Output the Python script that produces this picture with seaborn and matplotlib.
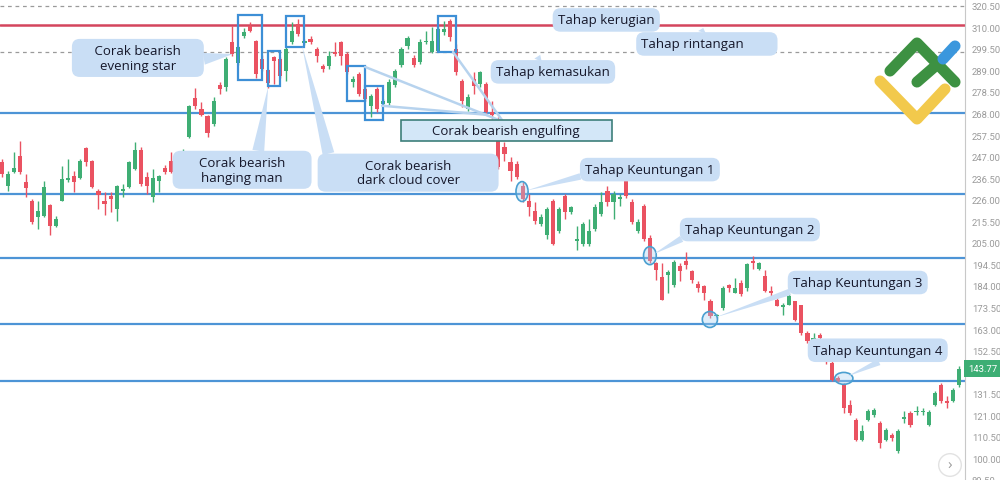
import numpy as np
import pandas as pd
import matplotlib
matplotlib.use("Agg")
import matplotlib.pyplot as plt
import matplotlib.transforms as mtransforms
from matplotlib.patches import Rectangle, Ellipse
from matplotlib.lines import Line2D
import seaborn as sns

sns.set_theme(style="white")
plt.rcParams['font.family'] = ['Open Sans', 'DejaVu Sans']

# ---- data (harga) ----
opens = [244.6, 232.9, 239.7, 247.5, 234.8, 225.6, 217.8, 218.3, 223.6, 213.4,
         225.6, 235.8, 237.7, 236.8, 251.4, 245.0, 230.5, 225.6, 228.0, 221.7,
         230.5, 232.4, 241.1, 250.4, 237.3, 227.5, 235.3, 241.6, 245.0, 238.7,
         241.1, 256.7, 275.7, 270.3, 266.9, 263.0, 282.0, 281.0, 302.9, 292.7,
         305.8, 310.7, 303.4, 294.6, 289.3, 295.6, 294.6, 288.8, 302.9, 311.6,
         302.4, 304.4, 299.5, 291.2, 291.2, 298.0, 302.9, 297.1, 283.4, 287.3,
         280.0, 271.8, 280.0, 272.8, 273.2, 282.0, 291.7, 301.0, 295.1, 293.2,
         302.9, 298.0, 298.5, 307.8, 313.1, 299.5, 283.9, 270.3, 284.9, 282.5,
         282.5, 268.9, 265.5, 251.8, 244.6, 243.6, 232.9, 225.6, 220.7, 214.4,
         208.6, 225.6, 211.0, 228.0, 220.2, 206.1, 204.7, 204.7, 212.0, 219.3,
         230.5, 225.1, 226.6, 235.3, 225.1, 211.0, 223.2, 207.6, 195.0, 188.6,
         189.6, 184.3, 193.5, 196.4, 191.1, 184.8, 183.8, 176.5, 169.2, 173.1,
         184.3, 180.4, 185.7, 182.8, 196.4, 192.5, 189.1, 181.8, 177.0, 173.6,
         174.6, 176.5, 174.6, 161.0, 157.5, 160.0, 156.6, 146.3, 139.0, 135.6,
         125.9, 118.6, 108.9, 118.6, 121.1, 117.2, 108.9, 111.3, 103.6, 119.1,
         122.0, 122.5, 122.5, 116.2, 125.9, 135.6, 127.9, 127.9, 135.6]
highs = [246.0, 240.2, 249.4, 254.8, 238.7, 226.6, 225.6, 235.3, 224.1, 218.3,
         242.6, 246.0, 240.2, 246.0, 251.8, 245.5, 231.4, 230.0, 230.0, 233.4,
         233.9, 245.0, 254.3, 251.8, 239.7, 241.1, 238.2, 243.1, 249.4, 245.0,
         250.9, 272.3, 280.5, 273.7, 267.4, 276.2, 283.4, 295.6, 310.7, 301.0,
         309.7, 312.6, 303.6, 296.6, 289.8, 296.1, 295.6, 300.5, 312.6, 314.1,
         304.4, 305.8, 300.5, 292.2, 298.5, 302.9, 303.4, 298.0, 286.4, 288.3,
         281.0, 277.6, 281.0, 275.2, 284.9, 289.8, 300.5, 305.8, 296.6, 304.4,
         308.2, 310.2, 310.2, 313.1, 314.1, 301.9, 284.9, 277.6, 288.3, 288.8,
         283.4, 274.2, 266.4, 254.3, 247.0, 245.0, 234.8, 229.0, 225.1, 219.3,
         222.7, 226.6, 222.7, 229.0, 223.2, 213.4, 215.4, 216.8, 224.1, 230.0,
         232.9, 230.5, 229.0, 236.3, 226.6, 216.4, 224.1, 208.6, 195.9, 195.0,
         191.6, 196.9, 195.0, 200.8, 192.0, 186.2, 184.7, 177.5, 170.6, 183.8,
         185.2, 187.7, 186.7, 195.4, 198.4, 195.9, 191.6, 183.8, 179.4, 175.5,
         180.4, 176.5, 174.6, 161.9, 161.0, 161.0, 157.5, 147.3, 140.0, 136.6,
         128.3, 119.6, 116.2, 124.0, 124.5, 118.1, 114.7, 112.3, 114.3, 123.0,
         123.0, 125.4, 124.5, 123.5, 132.7, 136.6, 130.3, 134.2, 144.9]
lows = [237.3, 230.5, 239.2, 238.7, 227.5, 214.4, 212.0, 217.8, 208.6, 212.9,
        225.4, 234.8, 230.0, 236.3, 242.6, 231.9, 221.7, 218.8, 220.2, 215.9,
        227.5, 231.9, 240.6, 232.9, 229.0, 225.1, 230.0, 238.7, 239.2, 237.3,
        240.2, 256.2, 270.3, 266.9, 256.7, 262.1, 277.6, 279.1, 296.1, 291.7,
        304.8, 307.8, 285.4, 288.8, 280.5, 282.5, 285.4, 283.9, 301.9, 305.8,
        301.4, 301.9, 293.2, 288.3, 289.8, 296.1, 291.7, 287.3, 281.0, 276.6,
        274.2, 266.4, 268.9, 271.8, 272.3, 281.0, 290.7, 299.5, 290.7, 292.2,
        301.9, 297.5, 298.0, 306.3, 303.4, 286.8, 271.3, 269.4, 277.6, 281.0,
        267.4, 265.5, 241.1, 245.0, 235.3, 236.3, 225.1, 218.3, 214.4, 213.0,
        207.1, 204.2, 210.0, 216.8, 219.3, 201.3, 203.7, 203.7, 211.0, 218.3,
        223.2, 216.8, 223.2, 227.0, 214.4, 210.0, 206.1, 195.4, 186.7, 177.0,
        180.4, 183.3, 186.2, 192.5, 185.7, 181.3, 177.0, 168.2, 168.2, 172.1,
        181.3, 180.4, 178.9, 181.8, 192.5, 191.6, 181.3, 178.9, 174.1, 169.7,
        174.6, 166.8, 160.0, 156.1, 156.1, 157.0, 145.9, 137.6, 137.1, 122.0,
        121.1, 108.4, 108.4, 118.1, 120.1, 105.0, 108.4, 108.4, 102.6, 117.2,
        115.2, 121.1, 121.1, 115.7, 125.4, 126.9, 124.5, 127.4, 134.7]
closes = [238.7, 238.7, 241.6, 239.7, 231.9, 215.4, 220.7, 232.4, 213.0, 216.8,
          236.3, 236.3, 234.8, 245.0, 244.6, 232.4, 228.5, 224.1, 226.6, 232.9,
          231.4, 244.6, 250.4, 233.9, 232.9, 236.8, 237.7, 239.7, 239.7, 243.6,
          249.9, 271.8, 271.8, 267.4, 258.7, 274.2, 280.0, 294.6, 297.1, 300.5,
          307.8, 308.2, 287.3, 289.8, 283.0, 293.7, 286.4, 299.5, 308.2, 306.8,
          303.4, 302.9, 296.1, 289.8, 296.1, 297.1, 296.1, 288.3, 284.9, 277.6,
          275.2, 276.6, 270.3, 274.2, 283.4, 288.8, 299.5, 304.8, 291.7, 302.9,
          303.4, 303.4, 309.2, 309.2, 305.3, 288.3, 274.2, 276.2, 281.5, 288.3,
          268.9, 267.4, 242.1, 248.4, 240.2, 237.3, 226.6, 222.7, 215.9, 217.8,
          221.7, 204.7, 221.7, 220.2, 222.7, 207.1, 214.4, 211.0, 222.7, 225.1,
          225.1, 229.0, 227.5, 228.0, 215.4, 215.4, 207.1, 196.4, 191.6, 177.0,
          190.6, 195.9, 191.1, 194.0, 186.7, 182.8, 180.4, 169.2, 169.7, 182.8,
          182.8, 182.8, 179.9, 194.5, 195.0, 195.0, 181.8, 180.4, 174.1, 174.6,
          179.0, 167.3, 161.0, 157.0, 158.5, 158.5, 148.8, 138.1, 137.6, 124.5,
          122.0, 108.9, 113.3, 123.0, 123.5, 107.4, 113.8, 109.9, 113.3, 120.1,
          116.2, 123.0, 123.0, 122.5, 131.7, 127.9, 126.9, 133.2, 143.8]

last_price = 143.77
stop_level = 311.0          # Tahap kerugian
entry_level = 298.2         # Tahap kemasukan (putus-putus)
top_dashed = 320.5
blue_levels = [268.3, 229.0, 197.7, 165.4, 137.7]
ytick_values = [320.5, 310.0, 299.5, 289.0, 278.5, 268.0, 257.5, 247.0, 236.5,
                226.0, 215.5, 205.0, 194.5, 184.0, 173.5, 163.0, 152.5, 142.0,
                131.5, 121.0, 110.5, 100.0, 89.5]

# kotak corak: (indeks awal, indeks akhir, harga bawah, harga atas)
pattern_boxes = [(39, 43, 284.4, 316.0), (44, 46, 281.5, 298.5), (47, 50, 300.5, 315.5),
                 (57, 60, 274.2, 291.2), (60, 63, 265.0, 281.5), (72, 75, 298.0, 315.5)]
# bulatan sasaran keuntungan: (indeks, harga, lebar, tinggi)
profit_circles = [(85.9, 230.0, 2.0, 9.7), (107.0, 198.8, 2.1, 8.8),
                  (116.9, 167.7, 2.5, 7.8), (139.0, 139.0, 3.0, 5.8)]

GREEN = '#3fae74'
RED = '#ea5261'
BLUE_LINE = '#4d94d6'
BOX_BLUE = '#3d8fd6'
CALLOUT = '#c9def5'
TEXT = '#15172a'
TICK = '#9a9a9a'

df = pd.DataFrame({'open': opens, 'high': highs, 'low': lows, 'close': closes})
df['idx'] = np.arange(len(df))
df['up'] = df['close'] >= df['open']
df['color'] = np.where(df['up'], GREEN, RED)
df['bottom'] = df[['open', 'close']].min(axis=1)
df['height'] = (df['close'] - df['open']).abs().clip(lower=0.6)

fig = plt.figure(figsize=(10, 4.81), dpi=100)
ax = fig.add_axes([0.0, 0.0, 0.965, 1.0])

# garis aras
ax.axhline(top_dashed, color='#9a9a9a', lw=0.9, ls=(0, (3, 3)), zorder=1)
ax.axhline(entry_level, color='#9a9a9a', lw=0.9, ls=(0, (3, 3)), zorder=1)
for lv in blue_levels:
    ax.axhline(lv, color=BLUE_LINE, lw=1.6, zorder=1)
ax.axhline(stop_level, color='#d4455d', lw=1.8, zorder=1)

# lilin
ax.vlines(df['idx'], df['low'], df['high'], colors=df['color'], lw=1.0, zorder=2)
ax.bar(df['idx'], df['height'], bottom=df['bottom'], width=0.68,
       color=df['color'], linewidth=0, zorder=3)

# kotak corak
for i0, i1, lo, hi in pattern_boxes:
    ax.add_patch(Rectangle((i0, lo), i1 - i0, hi - lo, fill=False,
                           ec=BOX_BLUE, lw=1.6, zorder=4))

# bulatan
for cx, cy, w, h in profit_circles:
    ax.add_patch(Ellipse((cx, cy), w, h, fc=(0.65, 0.82, 0.95, 0.35),
                         ec='#4a9fd0', lw=1.2, zorder=5))

# garis penyambung corak engulfing
engulf_links = [((60.0, 290.7), (82.8, 264.0)), ((62.8, 271.8), (80.1, 267.4)),
                ((74.5, 298.0), (82.8, 264.0))]
for (xa, ya), (xb, yb) in engulf_links:
    ax.plot([xa, xb], [ya, yb], color='#b7d3ee', lw=1.8, zorder=4,
            solid_capstyle='round')


def callout(text, xy_text, target=None, relpos=(0.5, 0.5), fs=9.5, tw=0.7):
    props = None
    if target is not None:
        props = dict(arrowstyle=f'wedge,tail_width={tw},shrink_factor=0.5',
                     fc=CALLOUT, ec='none', relpos=relpos, shrinkA=0, shrinkB=0)
    ax.annotate(text, xy=target if target is not None else xy_text,
                xytext=xy_text, ha='center', va='center', fontsize=fs,
                color=TEXT, linespacing=1.15, zorder=7,
                bbox=dict(boxstyle='round,pad=0.4,rounding_size=0.6',
                          fc=CALLOUT, ec='none'),
                arrowprops=props)


callout('     Corak bearish     \nevening star', (22.5, 295.1), (38.2, 297.0), (0.95, 0.4), tw=0.9)
callout('      Corak bearish      \nhanging man', (39.7, 240.6), (44.0, 281.0), (0.62, 1.0), tw=0.9)
callout('            Corak bearish            \ndark cloud cover', (67.1, 239.2), (49.6, 301.0), (0.04, 1.0), tw=0.9)
callout('Tahap kerugian', (99.8, 313.6))
callout('Tahap rintangan        ', (116.4, 301.9), (115.8, 309.7), (0.45, 1.0), tw=0.6)
callout('Tahap kemasukan', (91.0, 288.3), (88.9, 296.6), (0.35, 1.0), tw=0.6)
callout('Tahap Keuntungan 1', (107.0, 240.7), (86.6, 230.5), (0.05, 0.2), tw=0.5)
callout('Tahap Keuntungan 2', (123.5, 211.5), (107.6, 199.5), (0.05, 0.2), tw=0.5)
callout('Tahap Keuntungan 3', (141.3, 185.7), (117.6, 168.5), (0.1, 0.2), tw=0.5)
callout('Tahap Keuntungan 4', (144.6, 152.7), (139.6, 140.0), (0.6, 0.0), tw=0.5)

ax.text(83.3, 259.6, '        Corak bearish engulfing        ', ha='center', va='center',
        fontsize=9.5, color=TEXT, zorder=7,
        bbox=dict(boxstyle='square,pad=0.3', fc='#d3e7f8', ec='#3d7f7a', lw=1.2))

# paksi
ax.set_xlim(-0.25, 159.0)
ax.set_ylim(89.9, 323.8)
ax.set_xticks([])
ax.yaxis.tick_right()
ax.set_yticks(ytick_values)
# label 142.00 tertutup oleh kotak harga terakhir
ax.set_yticklabels(['' if v == 142.0 else f'{v:.2f}' for v in ytick_values])
ax.tick_params(axis='y', colors=TICK, labelsize=6.8, length=3, width=0.8,
               direction='out', pad=2)
for lbl in ax.get_yticklabels():
    lbl.set_fontfamily(['Roboto', 'DejaVu Sans'])
sns.despine(ax=ax, left=True, top=True, bottom=True, right=False)
ax.spines['right'].set_color('#c8c8c8')
ax.spines['right'].set_linewidth(0.8)
ax.set_facecolor('white')

trans = mtransforms.blended_transform_factory(ax.transAxes, ax.transData)
ax.text(1.003, last_price, f'{last_price:.2f}', transform=trans, ha='left',
        va='center', fontsize=6.8, color='white', zorder=8, clip_on=False,
        family=['Roboto', 'DejaVu Sans'],
        bbox=dict(boxstyle='square,pad=0.45', fc='#3dae74', ec='none'))

# logo
def px_line(xs, ys, color):
    fig.add_artist(Line2D([x / 1000 for x in xs], [1 - y / 481 for y in ys],
                          transform=fig.transFigure, color=color, lw=8,
                          solid_capstyle='round', solid_joinstyle='round'))

px_line([880, 917, 945], [82, 120, 90], '#f2c94c')
px_line([890, 917, 955], [72, 44, 83], '#3d9142')
px_line([917, 940], [83, 63], '#3d9142')
px_line([943, 955], [60, 47], '#3b97dd')

fig.text(0.950, 1 - 466 / 481, '›', ha='center', va='center', fontsize=11,
         color='#9a9a9a',
         bbox=dict(boxstyle='circle,pad=0.25', fc='white', ec='#e2e2e2'))

fig.savefig('out.png', dpi=100, facecolor='white')
